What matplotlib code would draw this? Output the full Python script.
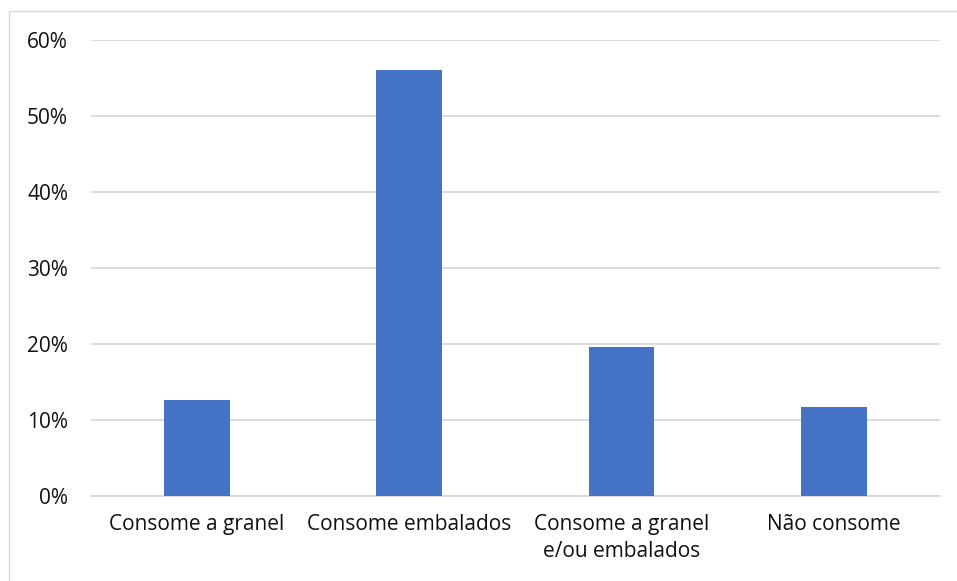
import matplotlib
matplotlib.use("Agg")
import matplotlib.pyplot as plt
from matplotlib.patches import Rectangle
from matplotlib.ticker import PercentFormatter

categories = ["Consome a granel", "Consome embalados",
              "Consome a granel\ne/ou embalados", "Não consome"]
shares = [0.126, 0.560, 0.196, 0.117]
y_ticks = [0.0, 0.1, 0.2, 0.3, 0.4, 0.5, 0.6]

plt.rcParams['font.family'] = ['Open Sans', 'DejaVu Sans']

fig = plt.figure(figsize=(9.57, 5.81), dpi=100)
ax = fig.add_axes([0.0951, 0.1463, 0.887, 0.7849])

x = range(len(categories))
ax.bar(x, shares, width=0.31, color="#4472C4", zorder=3)

ax.set_xlim(-0.5, len(categories) - 0.5)
ax.set_ylim(0, 0.6)
ax.set_yticks(y_ticks)
ax.yaxis.set_major_formatter(PercentFormatter(1.0, decimals=0))
ax.set_xticks(list(x))
ax.set_xticklabels(categories, linespacing=1.35)
ax.grid(axis="y", color="#D9D9D9", linewidth=1.3, zorder=0)
for s in ["top", "right", "left"]:
    ax.spines[s].set_visible(False)
ax.spines["bottom"].set_color("#D9D9D9")
ax.spines["bottom"].set_linewidth(1.3)
ax.tick_params(axis="both", length=0, labelsize=15, colors="#111111")
ax.tick_params(axis="y", pad=16.5)
ax.tick_params(axis="x", pad=13)

# outer chart frame
fig.patches.append(Rectangle((9 / 957, -0.1), 1.2, 1.1 - 11 / 581,
                             transform=fig.transFigure, fill=False,
                             edgecolor="#D9D9D9", linewidth=1))

fig.savefig("out.png", dpi=100)
